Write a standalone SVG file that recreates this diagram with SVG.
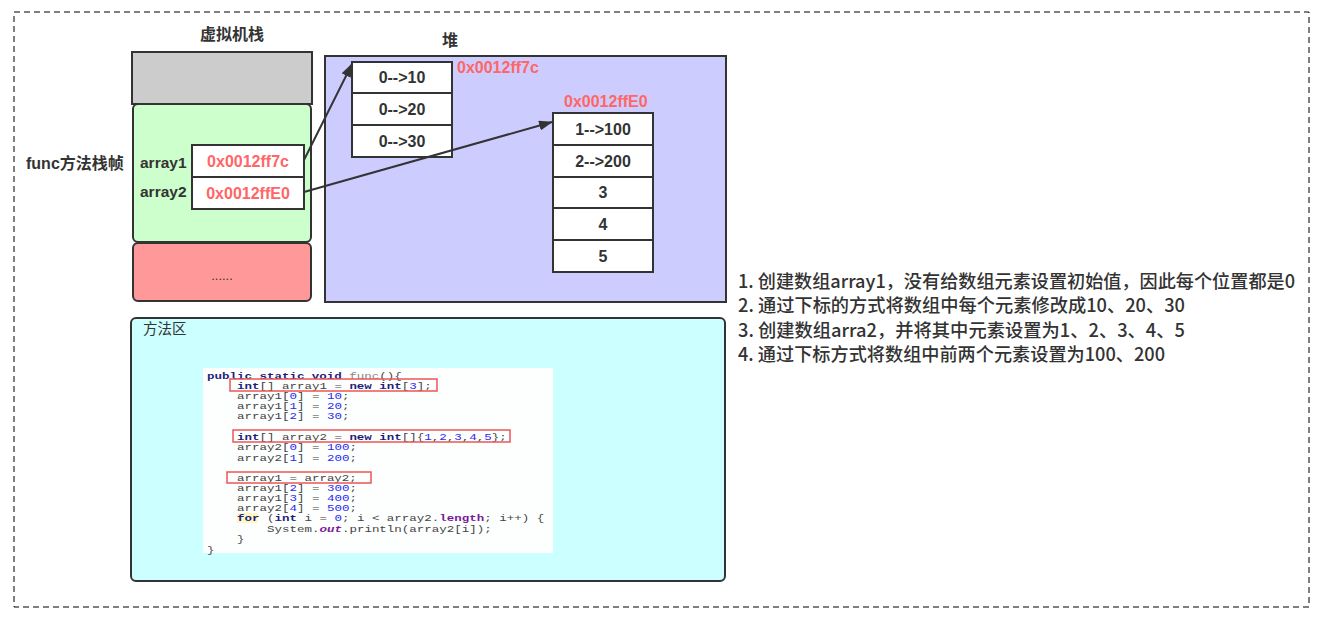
<svg xmlns="http://www.w3.org/2000/svg" width="1329" height="623" viewBox="0 0 1329 623">
<style>
.box{stroke:#333;stroke-width:2}
.t{font-family:"Liberation Sans","Noto Sans CJK SC",sans-serif;fill:#333}
.b{font-weight:bold}
.c{text-anchor:middle}
.addr{font-family:"Liberation Sans","Noto Sans CJK SC",sans-serif;font-weight:bold;font-size:16px;fill:#ff6666}
.cell{fill:#fff;stroke:#333;stroke-width:2}
.ct{font-family:"Liberation Sans","Noto Sans CJK SC",sans-serif;font-weight:bold;font-size:16px;fill:#333;text-anchor:middle}
.note{font-family:"Noto Sans CJK SC","Liberation Sans",sans-serif;font-size:18.5px;fill:#333;font-weight:500}
.code{font-family:"Liberation Mono",monospace;font-size:10px;fill:#444}
.kw{fill:#1e1e78;font-weight:bold}
.num{fill:#2a2aee}
.fld{fill:#7a1a9a;font-weight:bold}
.hl{fill:none;stroke:#ee5555;stroke-width:1.5}
.conn{stroke:#333;stroke-width:2;fill:none}
</style>
<defs>
<marker id="arr" markerWidth="14" markerHeight="10" refX="13" refY="5" orient="auto" markerUnits="userSpaceOnUse">
<path d="M0,0 L14,5 L0,10 Z" fill="#333"/>
</marker>
</defs>
<rect x="14" y="12" width="1295" height="595" fill="#fff" stroke="#000" stroke-width="1" stroke-dasharray="6 4"/>

<g id="stack">
<text class="t b c" x="232" y="40" font-size="16">虚拟机栈</text>
<rect class="box" x="132" y="52" width="180" height="52" fill="#cccccc"/>
</g>
<g id="func-frame">
<rect class="box" x="133" y="104" width="178" height="138" rx="5" fill="#ccffcc"/>
<text class="t b" x="26" y="169" font-size="16">func方法栈帧</text>
<text class="t" x="140" y="168" font-size="15.5" font-weight="bold" fill="#444">array1</text>
<text class="t" x="140" y="197" font-size="15.5" font-weight="bold" fill="#444">array2</text>
</g>
<g id="addr1">
<rect class="cell" x="192" y="145" width="112" height="32"/>
<text class="addr" x="248" y="167" text-anchor="middle">0x0012ff7c</text>
</g>
<g id="addr2">
<rect class="cell" x="192" y="177" width="112" height="32"/>
<text class="addr" x="248" y="199" text-anchor="middle">0x0012ffE0</text>
</g>
<g id="stack-rest">
<rect class="box" x="133" y="243" width="178" height="58" rx="5" fill="#ff9999"/>
<text class="t c" x="222" y="280" font-size="13">......</text>
</g>

<g id="heap">
<text class="t b c" x="450" y="46" font-size="16">堆</text>
<rect class="box" x="325" y="56" width="401" height="246" fill="#ccccff"/>
</g>
<g id="heap-array1">
<rect class="cell" x="352" y="62" width="100" height="31"/>
<rect class="cell" x="352" y="93" width="100" height="32"/>
<rect class="cell" x="352" y="125" width="100" height="32"/>
<text class="ct" x="402" y="83">0--&gt;10</text>
<text class="ct" x="402" y="115">0--&gt;20</text>
<text class="ct" x="402" y="147">0--&gt;30</text>
<text class="addr" x="457" y="73">0x0012ff7c</text>
</g>
<g id="heap-array2">
<rect class="cell" x="553" y="113" width="100" height="32"/>
<rect class="cell" x="553" y="145" width="100" height="32"/>
<rect class="cell" x="553" y="177" width="100" height="31"/>
<rect class="cell" x="553" y="208" width="100" height="32"/>
<rect class="cell" x="553" y="240" width="100" height="32"/>
<text class="ct" x="603" y="135">1--&gt;100</text>
<text class="ct" x="603" y="167">2--&gt;200</text>
<text class="ct" x="603" y="198">3</text>
<text class="ct" x="603" y="230">4</text>
<text class="ct" x="603" y="262">5</text>
<text class="addr" x="564" y="107">0x0012ffE0</text>
</g>

<g id="connectors">
<line class="conn" x1="304" y1="160" x2="352" y2="64" marker-end="url(#arr)"/>
<line class="conn" x1="304" y1="192" x2="552" y2="122" marker-end="url(#arr)"/>
</g>

<g id="method-area">
<rect class="box" x="131" y="318" width="594" height="263" rx="5" fill="#ccffff"/>
<text class="t" x="143" y="334" font-size="14.5">方法区</text>
<rect x="203" y="368" width="350" height="185" fill="#fdfefe"/>
<rect x="237" y="513" width="21" height="10" fill="#fff6c4"/>
<g class="code" xml:space="preserve">
<text transform="translate(207,378.5) scale(1.25,0.9)"><tspan class="kw">public static void</tspan> <tspan fill="#888">func</tspan>(){</text>
<text transform="translate(237,388.5) scale(1.25,0.9)"><tspan class="kw">int</tspan>[] array1 = <tspan class="kw">new</tspan> <tspan class="kw">int</tspan>[<tspan class="num">3</tspan>];</text>
<text transform="translate(237,398.5) scale(1.25,0.9)">array1[<tspan class="num">0</tspan>] = <tspan class="num">10</tspan>;</text>
<text transform="translate(237,408.8) scale(1.25,0.9)">array1[<tspan class="num">1</tspan>] = <tspan class="num">20</tspan>;</text>
<text transform="translate(237,419.2) scale(1.25,0.9)">array1[<tspan class="num">2</tspan>] = <tspan class="num">30</tspan>;</text>
<text transform="translate(237,439.5) scale(1.25,0.9)"><tspan class="kw">int</tspan>[] array2 = <tspan class="kw">new</tspan> <tspan class="kw">int</tspan>[]{<tspan class="num">1</tspan>,<tspan class="num">2</tspan>,<tspan class="num">3</tspan>,<tspan class="num">4</tspan>,<tspan class="num">5</tspan>};</text>
<text transform="translate(237,450.2) scale(1.25,0.9)">array2[<tspan class="num">0</tspan>] = <tspan class="num">100</tspan>;</text>
<text transform="translate(237,460.5) scale(1.25,0.9)">array2[<tspan class="num">1</tspan>] = <tspan class="num">200</tspan>;</text>
<text transform="translate(237,480.8) scale(1.25,0.9)">array1 = array2;</text>
<text transform="translate(237,490.8) scale(1.25,0.9)">array1[<tspan class="num">2</tspan>] = <tspan class="num">300</tspan>;</text>
<text transform="translate(237,500.8) scale(1.25,0.9)">array1[<tspan class="num">3</tspan>] = <tspan class="num">400</tspan>;</text>
<text transform="translate(237,511.2) scale(1.25,0.9)">array2[<tspan class="num">4</tspan>] = <tspan class="num">500</tspan>;</text>
<text transform="translate(237,521.2) scale(1.25,0.9)"><tspan class="kw">for</tspan> (<tspan class="kw">int</tspan> i = <tspan class="num">0</tspan>; i &lt; array2.<tspan class="fld">length</tspan>; i++) {</text>
<text transform="translate(267,531.8) scale(1.25,0.9)">System.<tspan class="fld" font-style="italic">out</tspan>.println(array2[i]);</text>
<text transform="translate(237,542.2) scale(1.25,0.9)">}</text>
<text transform="translate(207,552.5) scale(1.25,0.9)">}</text>
</g>
<rect class="hl" x="230" y="379" width="207" height="12"/>
<rect class="hl" x="233" y="430" width="277" height="12"/>
<rect class="hl" x="227" y="472" width="144" height="11"/>
</g>

<g id="notes">
<text class="note" x="738" y="288" textLength="557" lengthAdjust="spacingAndGlyphs">1. 创建数组array1，没有给数组元素设置初始值，因此每个位置都是0</text>
<text class="note" x="738" y="312" textLength="447" lengthAdjust="spacingAndGlyphs">2. 通过下标的方式将数组中每个元素修改成10、20、30</text>
<text class="note" x="738" y="337" textLength="447" lengthAdjust="spacingAndGlyphs">3. 创建数组arra2，并将其中元素设置为1、2、3、4、5</text>
<text class="note" x="738" y="361" textLength="427" lengthAdjust="spacingAndGlyphs">4. 通过下标方式将数组中前两个元素设置为100、200</text>
</g>
</svg>
